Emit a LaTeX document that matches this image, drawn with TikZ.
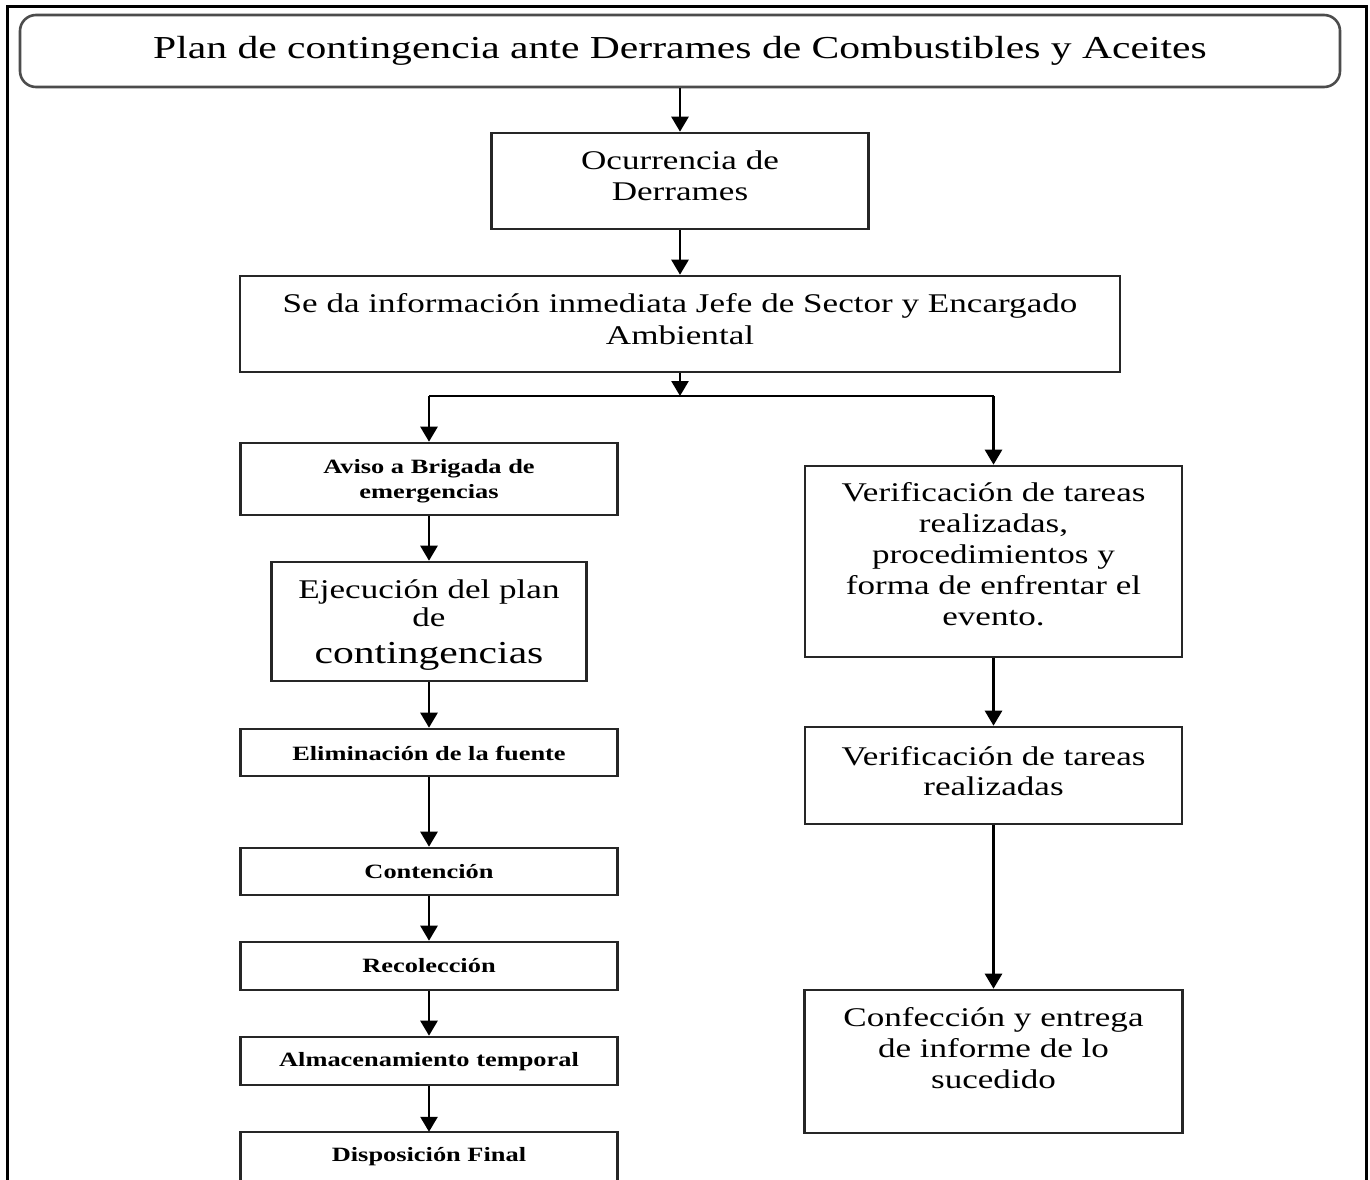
\documentclass[tikz,border=0pt]{standalone}
\usepackage{fontspec}
\setmainfont[FakeStretch=1.3]{Liberation Serif}
\usetikzlibrary{arrows.meta}
\begin{document}
\begin{tikzpicture}[x=1pt,y=-1pt,
  box/.style={draw=black!85, line width=2.6pt, fill=white, inner sep=0pt},
  tbox/.style={box, rounded corners=16pt, draw=black!70},
  lbl/.style={align=center, inner sep=0pt},
  arr/.style={draw=black, line width=2.6pt, -{Triangle[width=17pt,length=15pt]}},
  link/.style={draw=black, line width=2.6pt},
  big/.style={lbl, font=\fontsize{27}{31}\selectfont},
  small/.style={lbl, font=\bfseries\fontsize{20.3}{25}\selectfont},
]
\useasboundingbox (0,0) rectangle (1370,1180);
\fill[white] (0,0) rectangle (1370,1180);
% outer frame, open at the bottom
\draw[black, line width=3pt] (7,1181) -- (7,7) -- (1366,7) -- (1366,1181);

% central column
\node[tbox, minimum width=1320, minimum height=72] (title) at (680,51) {};
\node[lbl, font=\fontsize{32}{36}\selectfont] (titlet) at (680,51) {Plan de contingencia ante Derrames de Combustibles y Aceites};
\node[box, minimum width=377, minimum height=96] (ocur) at (680,181) {};
\node[big] (ocurt) at (680,176) {Ocurrencia de\\Derrames};
\node[box, minimum width=880, minimum height=96] (info) at (680,324) {};
\node[big, font=\fontsize{27}{32}\selectfont] (infot) at (680,319) {Se da información inmediata Jefe de Sector y Encargado\\Ambiental};
\coordinate (split) at (680,396);

% left column
\node[box, minimum width=377, minimum height=72] (aviso) at (429,479) {};
\node[small] (avisot) at (429,481) {Aviso a Brigada de\\emergencias};
\node[box, minimum width=315, minimum height=119] (ejec) at (429,621.5) {};
\node[lbl] (eject) at (429,625) {\fontsize{27}{29}\selectfont Ejecución del plan\\[3pt]\fontsize{27}{29}\selectfont de\\[14pt]\fontsize{32}{34}\selectfont contingencias};
\node[box, minimum width=377, minimum height=47] (elim) at (429,752.5) {};
\node[small] (elimt) at (429,753) {Eliminación de la fuente};
\node[box, minimum width=377, minimum height=47] (cont) at (429,871.5) {};
\node[small] (contt) at (429,872) {Contención};
\node[box, minimum width=377, minimum height=48] (reco) at (429,966) {};
\node[small] (recot) at (429,966) {Recolección};
\node[box, minimum width=377, minimum height=48] (alma) at (429,1061) {};
\node[small] (almat) at (429,1062) {Almacenamiento temporal};
\node[minimum width=377, minimum height=48, inner sep=0pt] (disp) at (429,1156) {};
\node[small] (dispt) at (429,1157) {Disposición Final};
\draw[draw=black!85, line width=2.6pt] ([yshift=-12pt]disp.south west) -- (disp.north west) -- (disp.north east) -- ([yshift=-12pt]disp.south east);

% right column
\node[box, minimum width=377, minimum height=191] (ver1) at (993.5,561.5) {};
\node[big] (ver1t) at (993.5,554) {Verificación de tareas\\realizadas,\\procedimientos y\\forma de enfrentar el\\evento.};
\node[box, minimum width=377, minimum height=97] (ver2) at (993.5,775.5) {};
\node[big, font=\fontsize{27}{30}\selectfont] (ver2t) at (993.5,771) {Verificación de tareas\\realizadas};
\node[box, minimum width=378, minimum height=143] (conf) at (993.5,1061.5) {};
\node[big] (conft) at (993.5,1048) {Confección y entrega\\de informe de lo\\sucedido};

% connectors
\draw[arr] (title.south) -- (ocur.north);
\draw[arr] (ocur.south) -- (info.north);
\draw[arr] (info.south) -- (split);
\draw[link] (aviso.north |- split) -- (ver1.north |- split);
\draw[arr] (aviso.north |- split) -- (aviso.north);
\draw[arr] (ver1.north |- split) -- (ver1.north);
\draw[arr] (aviso.south) -- (ejec.north);
\draw[arr] (ejec.south) -- (elim.north);
\draw[arr] (elim.south) -- (cont.north);
\draw[arr] (cont.south) -- (reco.north);
\draw[arr] (reco.south) -- (alma.north);
\draw[arr] (alma.south) -- (disp.north);
\draw[arr] (ver1.south) -- (ver2.north);
\draw[arr] (ver2.south) -- (conf.north);
\end{tikzpicture}
\end{document}
